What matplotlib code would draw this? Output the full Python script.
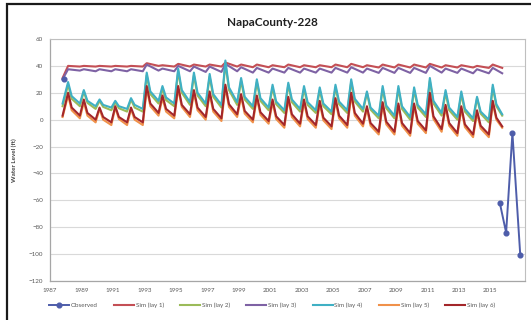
import numpy as np
import matplotlib
matplotlib.use("Agg")
import matplotlib.pyplot as plt
from matplotlib.patches import Rectangle

plt.rcParams['font.family'] = ['Lato', 'DejaVu Sans']

# ---- data -------------------------------------------------------------
years = list(range(1988, 2016))          # winter peak, spring recession, autumn low per year
sim_start = 1987.8
sim_end = 2015.75

# layer 1 (shallow, near-flat)
lay1_start = 31
lay1_peak = [40, 40, 40, 40, 40, 42, 40.5, 41.5, 41, 41, 42.5, 41, 41, 40.5,
             41, 40.5, 40.5, 41, 41.5, 40.5, 41, 41, 41, 41.5, 40.5, 40.5, 40, 41]
lay1_low = [39.5, 39.5, 39.5, 39.5, 39.5, 40, 39.5, 39.5, 39.5, 39.5, 39.5, 39, 39, 39,
            39, 39, 39, 39, 39, 38.8, 38.8, 38.8, 38.8, 38.8, 38.8, 38.8, 38.5, 38.5]

# layer 2
lay2_start = 10
lay2_peak = [26, 21, 14, 13, 15, 33, 23, 36, 33, 32, 42, 29, 28, 24,
             26, 23, 22, 24, 28, 20, 23, 23, 22, 29, 20, 19, 16, 24]
lay2_mid = [15.5, 12.5, 9.5, 8.5, 9, 19, 14.5, 20, 18, 17, 22, 15, 14, 11.5,
            13, 11, 10, 11.5, 13.5, 7.5, 8.5, 8, 9, 12, 7, 6, 4.5, 10]
lay2_low = [10, 8, 7, 6, 6, 12, 10, 11, 10, 9, 11, 8, 7, 5,
            6, 5, 4, 5, 6, 1, 1, 0, 2, 3, 0, -1, -2, 3]

# layer 3
lay3_start = 30
lay3_peak = [37.5, 37.5, 37.5, 37.5, 37.5, 41, 38, 40, 39.5, 39.5, 41.5, 39, 38.5, 38,
             38.5, 38, 38, 38.5, 39, 38, 38.5, 38.5, 38.5, 40, 38, 38, 37.5, 38.5]
lay3_low = [36.5, 36, 36, 36, 36, 36.5, 36, 36, 35.5, 35.5, 36, 35, 35, 35,
            35, 35, 35, 35, 35, 34.8, 34.8, 34.8, 34.8, 35, 34.8, 34.5, 34.5, 34.5]

# layer 4
lay4_start = 12
lay4_peak = [28, 22, 15, 14, 16, 35, 25, 38, 35, 34, 44, 31, 30, 26,
             27.5, 25, 24, 26, 30, 21, 25, 25, 24, 31, 22, 21, 17, 26]
lay4_mid = [17.5, 14, 11, 10, 11, 21, 16.5, 22, 20, 19, 24, 17, 16, 13.5,
            15, 13, 12, 13.5, 15.5, 9, 10.5, 10, 11, 14, 9, 8, 6, 11.5]
lay4_low = [12, 10, 9, 8, 8, 14, 12, 13, 12, 11, 13, 10, 9, 7,
            8, 7, 6, 7, 8, 3, 3, 2, 4, 5, 2, 1, 0, 4]

# layer 5
lay5_start = 2
lay5_peak = [18, 13, 8, 9, 8, 23, 16, 23, 20, 19, 24, 17, 16, 13,
             15, 13, 12, 14, 18, 8, 11, 10, 10, 18, 9, 8, 5, 12]
lay5_mid = [7, 3, 0, 0.5, 0, 10, 6, 9.5, 7, 6, 9.5, 4.5, 3.5, 0.5,
            2, 0.5, -0.5, 1, 3, -4.5, -3.5, -4.5, -3, 0.5, -4.5, -5.5, -6.5, 0]
lay5_low = [1, -2, -4, -4, -4, 3, 1, 2, 0, -1, 2, -2, -3, -6,
            -5, -6, -7, -6, -5, -11, -11, -12, -10, -9, -12, -13, -13, -6]

# layer 6
lay6_start = 3
lay6_peak = [20, 15, 9, 10, 9, 25, 18, 25, 22, 21, 26, 19, 18, 15,
             17, 15, 14, 16, 20, 10, 13, 12, 12, 20, 11, 10, 7, 14]
lay6_mid = [9, 5, 2, 2, 2, 12, 8, 11, 9, 8, 11.5, 6.5, 5.5, 2.5,
            4, 2.5, 1.5, 3, 5, -2.5, -1.5, -2.5, -1, 2.5, -2.5, -3.5, -4.5, 1.5]
lay6_low = [3, 0, -2, -2, -2, 5, 3, 4, 2, 1, 4, 0, -1, -4,
            -3, -4, -5, -4, -3, -9, -9, -10, -8, -7, -10, -11, -11, -5]

# observed water levels
obs_t = [1987.9, np.nan, 2015.6, 2016.0, 2016.4, 2016.9]
obs_v = [30, np.nan, -62, -84, -10, -101]

# axis ticks
xtick_years = list(range(1987, 2016, 2))
ytick_vals = list(range(-120, 61, 20))


# ---- helpers ----------------------------------------------------------
def build_series(start, peaks, lows, mids=None):
    t, v = [sim_start], [start]
    last = len(years) - 1
    for i, y in enumerate(years):
        t.append(y + 0.15)
        v.append(peaks[i])
        if mids is not None:
            t.append(y + 0.38)
            v.append(mids[i])
        t.append(sim_end if i == last else y + 0.9)
        v.append(lows[i])
    return np.array(t), np.array(v)


sims = [
    ("Sim (lay 1)", build_series(lay1_start, lay1_peak, lay1_low), "#C44F55"),
    ("Sim (lay 2)", build_series(lay2_start, lay2_peak, lay2_low, lay2_mid), "#9BBB59"),
    ("Sim (lay 3)", build_series(lay3_start, lay3_peak, lay3_low), "#7E62A4"),
    ("Sim (lay 4)", build_series(lay4_start, lay4_peak, lay4_low, lay4_mid), "#3FB0C4"),
    ("Sim (lay 5)", build_series(lay5_start, lay5_peak, lay5_low, lay5_mid), "#F0914A"),
    ("Sim (lay 6)", build_series(lay6_start, lay6_peak, lay6_low, lay6_mid), "#A3262A"),
]

# ---- figure -----------------------------------------------------------
fig = plt.figure(figsize=(5.31, 3.20), dpi=100)
ax = fig.add_axes([50 / 531, 1 - 281 / 320, 475 / 531, 242 / 320])

ax.plot(obs_t, obs_v, color="#4E5DAA", lw=1.4, marker="o", ms=3.4,
        label="Observed", zorder=5)
for name, (t, v), c in sims:
    ax.plot(t, v, color=c, lw=1.5, label=name)

ax.set_xlim(1987, 2017.2)
ax.set_ylim(-120, 60)
ax.set_xticks(xtick_years)
ax.set_xticklabels([str(y) for y in xtick_years])
ax.set_yticks(ytick_vals)
ax.tick_params(axis="both", length=0, labelsize=4.5, colors="#595959", pad=5)
ax.yaxis.grid(True, color="#D9D9D9", lw=0.8)
ax.set_axisbelow(True)
for side in ("top", "right"):
    ax.spines[side].set_color("#BFBFBF")
    ax.spines[side].set_linewidth(0.8)
for side in ("left", "bottom"):
    ax.spines[side].set_color("#A6A6A6")
    ax.spines[side].set_linewidth(0.9)

ax.set_ylabel("Water Level (ft)", fontsize=4.5, fontweight="bold",
              color="#404040", labelpad=8)
fig.text(272 / 531, 1 - 22 / 320, "NapaCounty-228", ha="center", va="center",
         fontsize=8.5, fontweight="bold", color="#202020")

handles, labels = ax.get_legend_handles_labels()
fig.legend(handles, labels, loc="center", bbox_to_anchor=(272 / 531, 1 - 305 / 320),
           ncol=7, frameon=False, fontsize=4.5, handlelength=3.2,
           columnspacing=2.6, handletextpad=0.3, labelcolor="#595959")

# outer chart frame
fig.add_artist(Rectangle((7 / 531, -0.05), 1.2, 1 - 4 / 320 + 0.05,
                         transform=fig.transFigure, fill=False,
                         edgecolor="#1A1A1A", lw=1.6))

fig.savefig("out.png", dpi=100, facecolor="white")
